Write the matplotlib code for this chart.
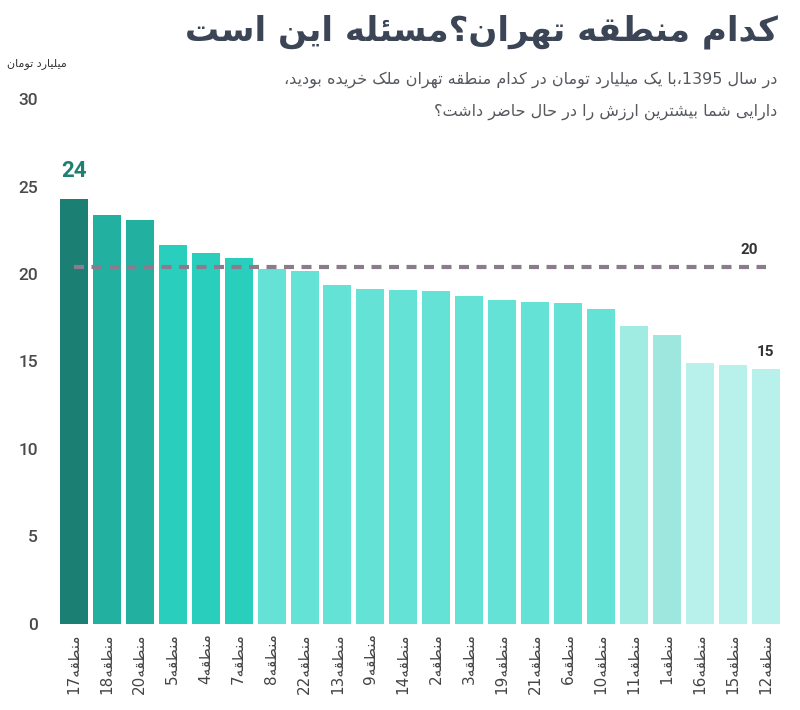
import re
import matplotlib
matplotlib.use("Agg")
import matplotlib.pyplot as plt

# ---------------- data ----------------
districts = ['17', '18', '20', '5', '4', '7', '8', '22', '13', '9', '14',
             '2', '3', '19', '21', '6', '10', '11', '1', '16', '15', '12']
values = [24.3, 23.4, 23.1, 21.65, 21.2, 20.9, 20.3, 20.2, 19.4, 19.15, 19.1,
          19.05, 18.75, 18.5, 18.4, 18.35, 18.0, 17.05, 16.5, 14.9, 14.8, 14.55]
average = 20.4
yticks = [0, 5, 10, 15, 20, 25, 30]

title = 'کدام منطقه تهران؟مسئله این است'
sub1 = 'در سال 1395،با یک میلیارد تومان در کدام منطقه تهران ملک خریده بودید،'
sub2 = 'دارایی شما بیشترین ارزش را در حال حاضر داشت؟'
unit = 'میلیارد تومان'
prefix = 'منطقه'

# ------------- simple Arabic/Persian shaping + RTL -------------
def _f(a, b, c=None, d=None):
    return (chr(a), chr(b), chr(c) if c else None, chr(d) if d else None)

FORMS = {
    '\u0627': _f(0xFE8D, 0xFE8E), '\u0622': _f(0xFE81, 0xFE82),
    '\u0628': _f(0xFE8F, 0xFE90, 0xFE91, 0xFE92),
    '\u067E': _f(0xFB56, 0xFB57, 0xFB58, 0xFB59),
    '\u062A': _f(0xFE95, 0xFE96, 0xFE97, 0xFE98),
    '\u062B': _f(0xFE99, 0xFE9A, 0xFE9B, 0xFE9C),
    '\u062C': _f(0xFE9D, 0xFE9E, 0xFE9F, 0xFEA0),
    '\u0686': _f(0xFB7A, 0xFB7B, 0xFB7C, 0xFB7D),
    '\u062D': _f(0xFEA1, 0xFEA2, 0xFEA3, 0xFEA4),
    '\u062E': _f(0xFEA5, 0xFEA6, 0xFEA7, 0xFEA8),
    '\u062F': _f(0xFEA9, 0xFEAA), '\u0630': _f(0xFEAB, 0xFEAC),
    '\u0631': _f(0xFEAD, 0xFEAE), '\u0632': _f(0xFEAF, 0xFEB0),
    '\u0698': _f(0xFB8A, 0xFB8B),
    '\u0633': _f(0xFEB1, 0xFEB2, 0xFEB3, 0xFEB4),
    '\u0634': _f(0xFEB5, 0xFEB6, 0xFEB7, 0xFEB8),
    '\u0635': _f(0xFEB9, 0xFEBA, 0xFEBB, 0xFEBC),
    '\u0636': _f(0xFEBD, 0xFEBE, 0xFEBF, 0xFEC0),
    '\u0637': _f(0xFEC1, 0xFEC2, 0xFEC3, 0xFEC4),
    '\u0638': _f(0xFEC5, 0xFEC6, 0xFEC7, 0xFEC8),
    '\u0639': _f(0xFEC9, 0xFECA, 0xFECB, 0xFECC),
    '\u063A': _f(0xFECD, 0xFECE, 0xFECF, 0xFED0),
    '\u0641': _f(0xFED1, 0xFED2, 0xFED3, 0xFED4),
    '\u0642': _f(0xFED5, 0xFED6, 0xFED7, 0xFED8),
    '\u06A9': _f(0xFB8E, 0xFB8F, 0xFB90, 0xFB91),
    '\u0643': _f(0xFED9, 0xFEDA, 0xFEDB, 0xFEDC),
    '\u06AF': _f(0xFB92, 0xFB93, 0xFB94, 0xFB95),
    '\u0644': _f(0xFEDD, 0xFEDE, 0xFEDF, 0xFEE0),
    '\u0645': _f(0xFEE1, 0xFEE2, 0xFEE3, 0xFEE4),
    '\u0646': _f(0xFEE5, 0xFEE6, 0xFEE7, 0xFEE8),
    '\u0647': _f(0xFEE9, 0xFEEA, 0xFEEB, 0xFEEC),
    '\u0648': _f(0xFEED, 0xFEEE),
    '\u06CC': _f(0xFBFC, 0xFBFD, 0xFBFE, 0xFBFF),
    '\u064A': _f(0xFEF1, 0xFEF2, 0xFEF3, 0xFEF4),
    '\u0626': _f(0xFE89, 0xFE8A, 0xFE8B, 0xFE8C),
}


def _dual(c):
    return c in FORMS and FORMS[c][2] is not None


def shape(text):
    out = []
    i, n = 0, len(text)
    while i < n:
        c = text[i]
        prev = text[i - 1] if i > 0 else None
        nxt = text[i + 1] if i + 1 < n else None
        jp = _dual(prev)
        if c == '\u0644' and nxt == '\u0627':
            out.append('\uFEFC' if jp else '\uFEFB')
            i += 2
            continue
        if c not in FORMS:
            out.append(c)
            i += 1
            continue
        iso, fin, ini, med = FORMS[c]
        jn = ini is not None and nxt in FORMS
        if jp and jn:
            out.append(med)
        elif jp:
            out.append(fin)
        elif jn:
            out.append(ini)
        else:
            out.append(iso)
        i += 1
    return ''.join(out)


def rtl(text):
    s = shape(text)[::-1]
    return re.sub(r'[0-9]+', lambda m: m.group(0)[::-1], s)


FA = ['DejaVu Sans']
NUM = ['Roboto', 'DejaVu Sans']

# ---------------- styles ----------------
bar_colors = (['#1b7f73', '#22b1a1', '#22b1a1', '#29cfbc', '#29cfbc', '#29cfbc']
              + ['#64e2d6'] * 11 + ['#a0ece3', '#9de7df'] + ['#b8f1ec'] * 3)

fig = plt.figure(figsize=(8, 7.1), dpi=100)
fig.patch.set_facecolor('white')
ax = fig.add_axes([0.075, 0.1218, 0.8994, 0.7382])

x = list(range(len(values)))
ax.bar(x, values, width=0.85, color=bar_colors, zorder=2)
ax.plot([x[0], x[-1]], [average, average], color='#8c7b8e', lw=3.0,
        ls=(0, (2.4, 1.8)), zorder=3, solid_capstyle='butt')

ax.set_xlim(-0.425, len(values) - 1 + 0.425)
ax.set_ylim(0, 30)
for s in ax.spines.values():
    s.set_visible(False)
ax.tick_params(length=0)
ax.set_yticks(yticks)
ax.set_yticklabels([str(t) for t in yticks], family=NUM, fontsize=12.5,
                   color='#4a4a4a', fontweight='medium')
ax.tick_params(axis='y', pad=16)
ax.set_xticks(x)
ax.set_xticklabels([rtl(prefix + d) for d in districts], rotation=90,
                   family=FA, fontsize=11, color='#444444')
ax.tick_params(axis='x', pad=7)

# annotations
ax.text(x[0], values[0] + 1.0, str(round(values[0])), ha='center', va='bottom',
        family=NUM, fontsize=16, fontweight='bold', color='#1f7f72')
ax.text(x[-1] - 0.5, average + 0.6, str(round(average)), ha='center', va='bottom',
        family=NUM, fontsize=11, fontweight='bold', color='#333333')
ax.text(x[-1], values[-1] + 0.6, str(round(values[-1])), ha='center', va='bottom',
        family=NUM, fontsize=11, fontweight='bold', color='#333333')

# titles
fig.text(0.9725, 1 - 32 / 710, rtl(title), ha='right', va='center', family=FA,
         fontsize=24.5, fontweight='bold', color='#3b4556')
fig.text(0.9712, 1 - 80 / 710, rtl(sub1), ha='right', va='center', family=FA,
         fontsize=11.5, color='#55595e')
fig.text(0.9712, 1 - 112 / 710, rtl(sub2), ha='right', va='center', family=FA,
         fontsize=11.5, color='#55595e')
fig.text(37 / 800, 1 - 64 / 710, rtl(unit), ha='center', va='center', family=FA,
         fontsize=8, color='#333333')

fig.savefig('out.png', dpi=100, facecolor='white')
